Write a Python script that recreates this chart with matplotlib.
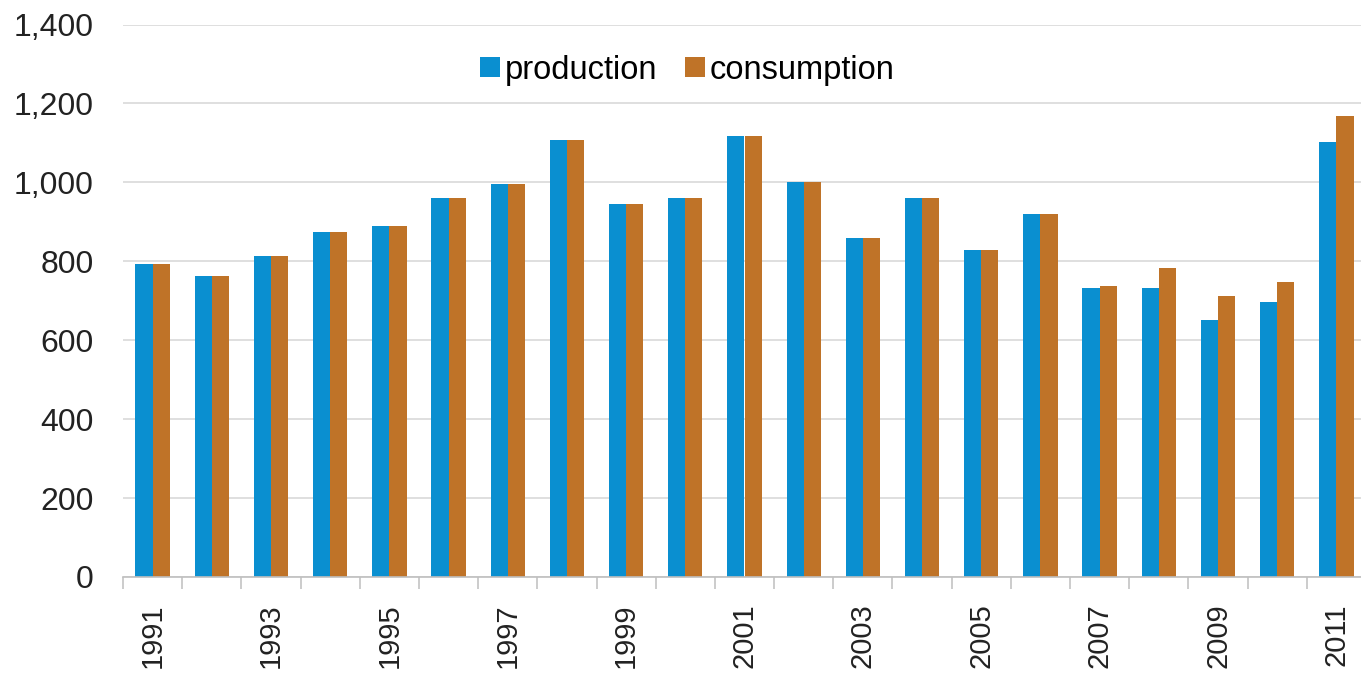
import matplotlib.pyplot as plt
import numpy as np
from matplotlib.ticker import FuncFormatter

plt.rcParams['font.family'] = ['Liberation Sans', 'DejaVu Sans']

years = list(range(1991, 2012))
production = [793, 763, 814, 875, 890, 961, 997, 1108, 946, 961, 1118,
              1001, 860, 961, 829, 920, 733, 733, 652, 697, 1103]
consumption = [793, 763, 814, 875, 890, 961, 997, 1108, 946, 961, 1118,
               1001, 860, 961, 829, 920, 738, 784, 713, 748, 1169]

blue = "#0A8FD0"
orange = "#BF7328"

fig = plt.figure(figsize=(13.61, 6.73), dpi=100)
ax = fig.add_axes([123 / 1361, 1 - 577 / 673, 1243 / 1361, 552.5 / 673])

x = np.arange(len(years))
w = 0.29
ax.bar(x - w / 2, production, width=w, color=blue, label="production", zorder=3)
ax.bar(x + w / 2, consumption, width=w, color=orange, label="consumption", zorder=3)

ax.set_xlim(-0.5, len(years) - 0.5)
ax.set_ylim(0, 1400)
ax.set_yticks(range(0, 1401, 200))
ax.yaxis.set_major_formatter(FuncFormatter(lambda v, p: "{:,.0f}".format(v)))
ax.grid(axis="y", color="#D9D9D9", linewidth=1.2, zorder=0)

# labels on every other year, ticks between categories
ax.set_xticks(x[::2])
ax.set_xticklabels([str(y) for y in years[::2]], rotation=90, fontsize=21, color="#222222")
ax.set_xticks(np.arange(-0.5, len(years), 1), minor=True)
ax.tick_params(axis="x", which="major", length=0, pad=19)
ax.tick_params(axis="x", which="minor", length=8.5, width=1.1, color="#BFBFBF")
ax.tick_params(axis="y", length=0, pad=21, labelsize=23, labelcolor="#222222")

for s in ["top", "right", "left"]:
    ax.spines[s].set_visible(False)
ax.spines["bottom"].set_color("#BFBFBF")
ax.spines["bottom"].set_linewidth(1.2)
ax.spines["bottom"].set_zorder(4)

fig.legend(loc="center", bbox_to_anchor=(0.505, 1 - 70 / 673), ncol=2, frameon=False,
           fontsize=23.5, handlelength=0.6, handleheight=0.6, handletextpad=0.15,
           columnspacing=0.85, borderpad=0)

fig.savefig("out.png", dpi=100, facecolor="white")
